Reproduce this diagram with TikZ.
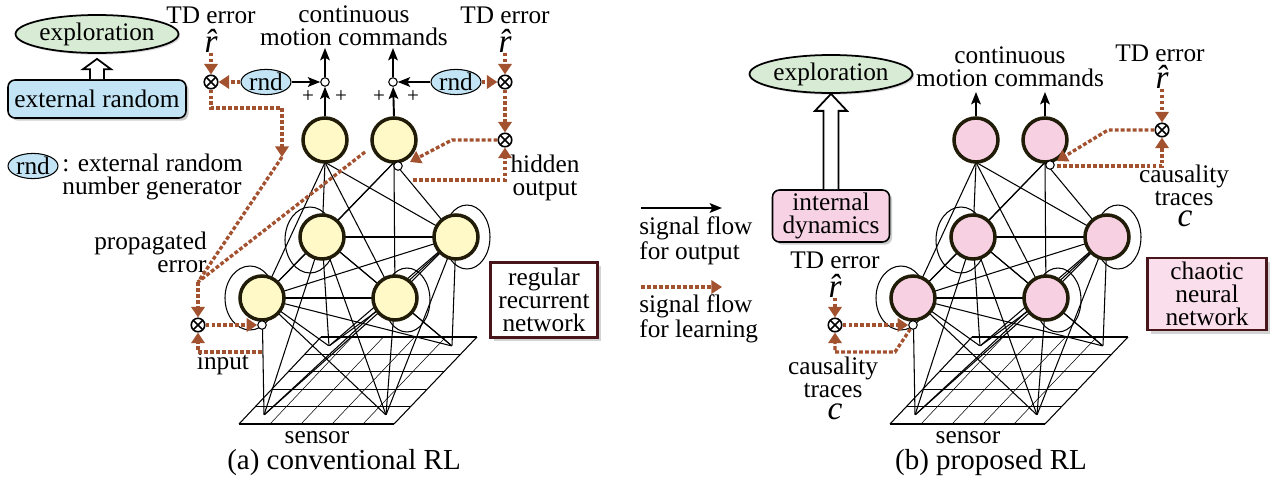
\documentclass[tikz,border=0pt]{standalone}
\usepackage{fontspec}
\setmainfont{Liberation Serif}
\usetikzlibrary{arrows.meta,calc,positioning,shapes.geometric,shadows}

\definecolor{neuronA}{RGB}{255,249,200}
\definecolor{neuronB}{RGB}{247,208,226}
\definecolor{ringcol}{RGB}{32,28,8}
\definecolor{learncol}{RGB}{163,82,47}
\definecolor{explcol}{RGB}{216,235,213}
\definecolor{rndcol}{RGB}{194,228,244}
\definecolor{dyncol}{RGB}{246,210,228}
\definecolor{chaoscol}{RGB}{251,222,235}
\definecolor{boxedge}{RGB}{72,22,26}

\def\neurons{{(325,140)/o1}, {(394,140)/o2}, {(322,237)/h1}, {(456,237)/h2}, {(262,298)/h3}, {(395,298)/h4}}
\def\sensors{{(264,415)/x1}, {(386,415)/x2}, {(329,346)/x3}, {(452,346)/x4}}
\def\hiddenConnect{h1/h2, h3/h4, h1/h3, h2/h4, h1/h4, h2/h3}
\def\selfLoops{{(310,240)/0.5/0.66}, {(250,298)/0.5/0.64}, {(467,237)/0.46/0.64}, {(407,300)/0.46/0.64}}

\tikzstyle{neuron}=[circle,draw=ringcol,line width=2pt,minimum size=0.88cm,inner sep=0pt]
\tikzstyle{invis-neuron}=[circle,minimum size=0.88cm,inner sep=0pt]
\tikzstyle{point}=[inner sep=0pt,minimum size=0pt]
\tikzstyle{sum}=[circle,draw,fill=white,line width=0.6pt,minimum size=0.17cm,inner sep=0pt]
\tikzstyle{mult}=[circle,draw,fill=white,line width=0.9pt,minimum size=0.27cm,inner sep=0pt,
  path picture={\draw[line width=0.9pt] (path picture bounding box.south west) -- (path picture bounding box.north east)
    (path picture bounding box.north west) -- (path picture bounding box.south east);}]
\tikzstyle{rnd}=[ellipse,draw,fill=rndcol,line width=0.6pt,minimum width=1cm,minimum height=0.5cm,inner sep=0pt]
\tikzstyle{explore}=[ellipse,draw,fill=explcol,line width=1pt,minimum width=2.62cm,minimum height=0.76cm,inner sep=0pt,
  drop shadow={shadow xshift=1pt,shadow yshift=-1pt,opacity=0.3}]
\tikzstyle{namebox}=[draw,line width=0.9pt,rounded corners=4pt,align=center,inner sep=0pt,
  drop shadow={shadow xshift=1.5pt,shadow yshift=-1.5pt,opacity=0.4}]
\tikzstyle{netbox}=[draw=boxedge,fill=white,line width=1.3pt,align=center,inner sep=0pt,
  drop shadow={shadow xshift=2pt,shadow yshift=-2pt,opacity=0.35}]
\tikzstyle{txt}=[align=center,inner sep=0pt]
\tikzstyle{caption}=[inner sep=0pt,font=\fontsize{16.5}{18}\selectfont]
\tikzstyle{symbol}=[inner sep=0pt,font=\fontsize{19}{19}\selectfont\itshape]
\tikzstyle{trace}=[symbol,text height=1.05ex,text depth=0pt]
\tikzstyle{plus}=[inner sep=0pt,font=\fontsize{12}{12}\selectfont]
\tikzstyle{link}=[draw,line width=0.6pt]
\tikzstyle{self loop}=[draw,line width=0.6pt]
\tikzstyle{sensor line}=[draw,line width=0.6pt]
\tikzstyle{sensor thin}=[draw,line width=0.3pt]
\tikzstyle{output edge}=[draw,line width=1.1pt,-{Stealth[length=7pt,width=5.5pt,inset=1.5pt]}]
\tikzstyle{learn line}=[draw=learncol,line width=1.9pt,dash pattern=on 2.2pt off 1.2pt]
\tikzstyle{learn edge}=[learn line,-{Triangle[length=6pt,width=7.5pt]}]
\tikzstyle{hollow arrow}=[draw,fill=white,line width=1pt,line join=miter]

\begin{document}
\begin{tikzpicture}[x=0.02cm,y=-0.02cm,font=\fontsize{14.4}{13}\selectfont]
  \useasboundingbox (0,0) rectangle (1276,487);

  % Both networks are the same, (b) sits 651px to the right of (a)
  \foreach \dx/\net/\col in {0/a/neuronA, 651/b/neuronB} {
    \begin{scope}[shift={(\dx,0)}]
      % the sensor sheet
      \foreach \i in {0,...,5}
        \path[sensor line] ($(239,424)!\i/5!(321,337)$) -- ($(394,424)!\i/5!(477,337)$);
      \foreach \j in {1,...,4}
        \path[sensor thin] ($(239,424)!\j/5!(394,424)$) -- ($(321,337)!\j/5!(477,337)$);
      \path[sensor line] (239,424) -- (321,337) (394,424) -- (477,337);
      % self feedback of the hidden neurons
      \foreach \pos/\rx/\ry in \selfLoops
        \path[self loop] \pos ellipse ({\rx cm} and {\ry cm});

      % First the vertices, then the weights, then the neurons on top
      \foreach \pos/\name in \neurons
        \node[invis-neuron] (\net-\name) at \pos {};
      \foreach \pos/\name in \sensors
        \node[point] (\net-\name) at \pos {};
      \foreach \o in {o1,o2}
        \foreach \h in {h1,h2,h3,h4}
          \path[link] (\net-\o.south) -- (\net-\h.center);
      \foreach \source/\dest in \hiddenConnect
        \path[link] (\net-\source.center) -- (\net-\dest.center);
      \foreach \h in {h1,h2,h3,h4}
        \foreach \s in {x1,x2,x3,x4}
          \path[link] (\net-\h.center) -- (\net-\s);
      \foreach \pos/\name in \neurons
        \node[neuron, fill=\col] (\net-\name-ring) at \pos {};
      \node[txt] (\net-sensor) at (317,438) {sensor};
    \end{scope}
  }

  % (a) conventional RL
  \node[explore] (a-explore) at (97,34) {exploration};
  \node[namebox, fill=rndcol, minimum width=3.56cm, minimum height=0.76cm] (a-ext) at (97,99) {external random};
  \draw[hollow arrow] ($(a-ext.north)+(-7,0)$) -- ++(0,-10) -- ++(-7,0) -- ($(a-explore.south)+(0,5)$)
    -- ($(a-ext.north)+(14,-10)$) -- ++(-7,0) -- ($(a-ext.north)+(7,0)$);
  \node[rnd, minimum height=0.44cm] (a-rndkey) at (33,166) {rnd};
  \node[txt, anchor=west, align=left] (a-rndtext) at (62,177) {: external random\\number generator};

  \node[txt] (a-td1) at (211,15) {TD error};
  \node[symbol] (a-r1) at (211,41) {\^r};
  \node[txt] (a-td2) at (505,15) {TD error};
  \node[symbol] (a-r2) at (505,41) {\^r};
  \node[txt] (a-cmd) at (354,26) {continuous\\motion commands};
  \node[mult] (a-mul1) at (211,82) {};
  \node[rnd] (a-rnd1) at (266,82) {rnd};
  \node[sum] (a-sum1) at (325,82) {};
  \node[sum] (a-sum2) at (393,82) {};
  \node[rnd] (a-rnd2) at (456,82) {rnd};
  \node[mult] (a-mul2) at (505,82) {};
  \node[mult] (a-mul3) at (505,140) {};
  \foreach \pos/\name in {{(308,97)/p1}, {(341,97)/p2}, {(379,97)/p3}, {(413,97)/p4}}
    \node[plus] (a-\name) at \pos {+};
  \coordinate (a-up1) at (325,48);
  \coordinate (a-up2) at (393,48);

  \node[sum] (a-sumh) at (398,166) {};
  \node[txt] (a-hidden) at (545,178) {hidden\\output};
  \node[sum] (a-sumi) at (262,325) {};
  \node[mult] (a-mul4) at (198,325) {};
  \node[txt] (a-input) at (223,364) {input};
  \node[txt, anchor=east, align=right] (a-prop) at (207,252) {propagated\\error};
  \node[netbox, minimum width=2.14cm, minimum height=1.5cm] (a-net) at (544,300) {regular\\recurrent\\network};
  \node[caption] (a-caption) at (344,463) {(a) conventional RL};

  % bends of the learning signals in (a)
  \coordinate (a-k1) at (452,140);
  \coordinate (a-k2) at (410,162);
  \coordinate (a-k3) at (413,180);
  \coordinate (a-k4) at (282,108);
  \coordinate (a-k5) at (282,157);
  \coordinate (a-k6) at (198,282);
  \coordinate (a-k7) at (365,152);
  \coordinate (a-k8) at (262,352);

  \path[output edge] (a-rnd1) -- (a-sum1);
  \path[output edge] (a-o1-ring.north) -- (a-sum1);
  \path[output edge] (a-sum1) -- (a-up1);
  \path[output edge] (a-rnd2) -- (a-sum2);
  \path[output edge] (a-o2-ring.north) -- (a-sum2);
  \path[output edge] (a-sum2) -- (a-up2);

  \path[learn edge] (a-r1) -- (a-mul1);
  \path[learn edge] (a-rnd1) -- (a-mul1);
  \path[learn edge] (a-r2) -- (a-mul2);
  \path[learn edge] (a-rnd2) -- (a-mul2);
  \path[learn edge] (a-mul2) -- (a-mul3);
  \path[learn edge] (a-mul3) -- (a-k1) -- (a-k2);
  \path[learn edge] (a-k3) -| (a-mul3);
  \path[learn edge] (a-mul1) |- (a-k4) -- (a-k5);
  \path[learn line] (a-k5) -- (a-k6);
  \path[learn line] (a-k7) -- (a-k6);
  \path[learn edge] (a-k6) -- (a-mul4);
  \path[learn edge] (a-mul4) -- (a-sumi);
  \path[learn edge] (a-k8) -| (a-mul4);

  % legend
  \coordinate (lg1) at (641,208);
  \coordinate (lg2) at (722,208);
  \coordinate (lg3) at (641,287);
  \coordinate (lg4) at (722,287);
  \path[output edge] (lg1) -- (lg2);
  \path[learn edge] (lg3) -- (lg4);
  \node[txt, anchor=west, align=left] (lg-out) at (639,241) {signal flow\\for output};
  \node[txt, anchor=west, align=left] (lg-learn) at (639,319) {signal flow\\for learning};

  % (b) proposed RL
  \node[explore] (b-explore) at (831,74) {exploration};
  \node[namebox, fill=dyncol, minimum width=2.34cm, minimum height=1.04cm] (b-dyn) at (831,216) {internal\\dynamics};
  \draw[hollow arrow] ($(b-dyn.north)+(-7.5,0)$) -- ($(b-explore.south)+(-7.5,17)$) -- ++(-8.5,0) -- (b-explore.south)
    -- ($(b-explore.south)+(16,17)$) -- ++(-8.5,0) -- ($(b-dyn.north)+(7.5,0)$);

  \node[txt] (b-cmd) at (1010,67) {continuous\\motion commands};
  \coordinate (b-up1) at (976,92);
  \coordinate (b-up2) at (1045,92);
  \node[txt] (b-td1) at (1160,53) {TD error};
  \node[symbol] (b-r1) at (1162,77) {\^r};
  \node[mult] (b-mul1) at (1162,130) {};
  \node[sum] (b-sumh) at (1050,165) {};
  \node[txt] (b-trace1) at (1184,185) {causality\\traces};
  \node[trace] (b-c1) at (1185,222) {c};

  \node[txt] (b-td2) at (835,260) {TD error};
  \node[symbol] (b-r2) at (835,286) {\^r};
  \node[mult] (b-mul2) at (835,325) {};
  \node[sum] (b-sumi) at (913,325) {};
  \node[txt] (b-trace2) at (833,377) {causality\\traces};
  \node[trace] (b-c2) at (835,415) {c};
  \node[netbox, fill=chaoscol, minimum width=2.38cm, minimum height=1.44cm] (b-net) at (1207,294) {chaotic\\neural\\network};
  \node[caption] (b-caption) at (991,463) {(b) proposed RL};

  % bends of the learning signals in (b)
  \coordinate (b-k1) at (1108,130);
  \coordinate (b-k2) at (1057,161);
  \coordinate (b-k3) at (1057,166);
  \coordinate (b-k4) at (895,352);

  \path[output edge] (b-o1-ring.north) -- (b-up1);
  \path[output edge] (b-o2-ring.north) -- (b-up2);
  \path[learn edge] (b-r1) -- (b-mul1);
  \path[learn edge] (b-mul1) -- (b-k1) -- (b-k2);
  \path[learn edge] (b-k3) -| (b-mul1);
  \path[learn edge] (b-r2) -- (b-mul2);
  \path[learn edge] (b-mul2) -- (b-sumi);
  \path[learn edge] (b-sumi) -- (b-k4) -| (b-mul2);
\end{tikzpicture}
\end{document}
